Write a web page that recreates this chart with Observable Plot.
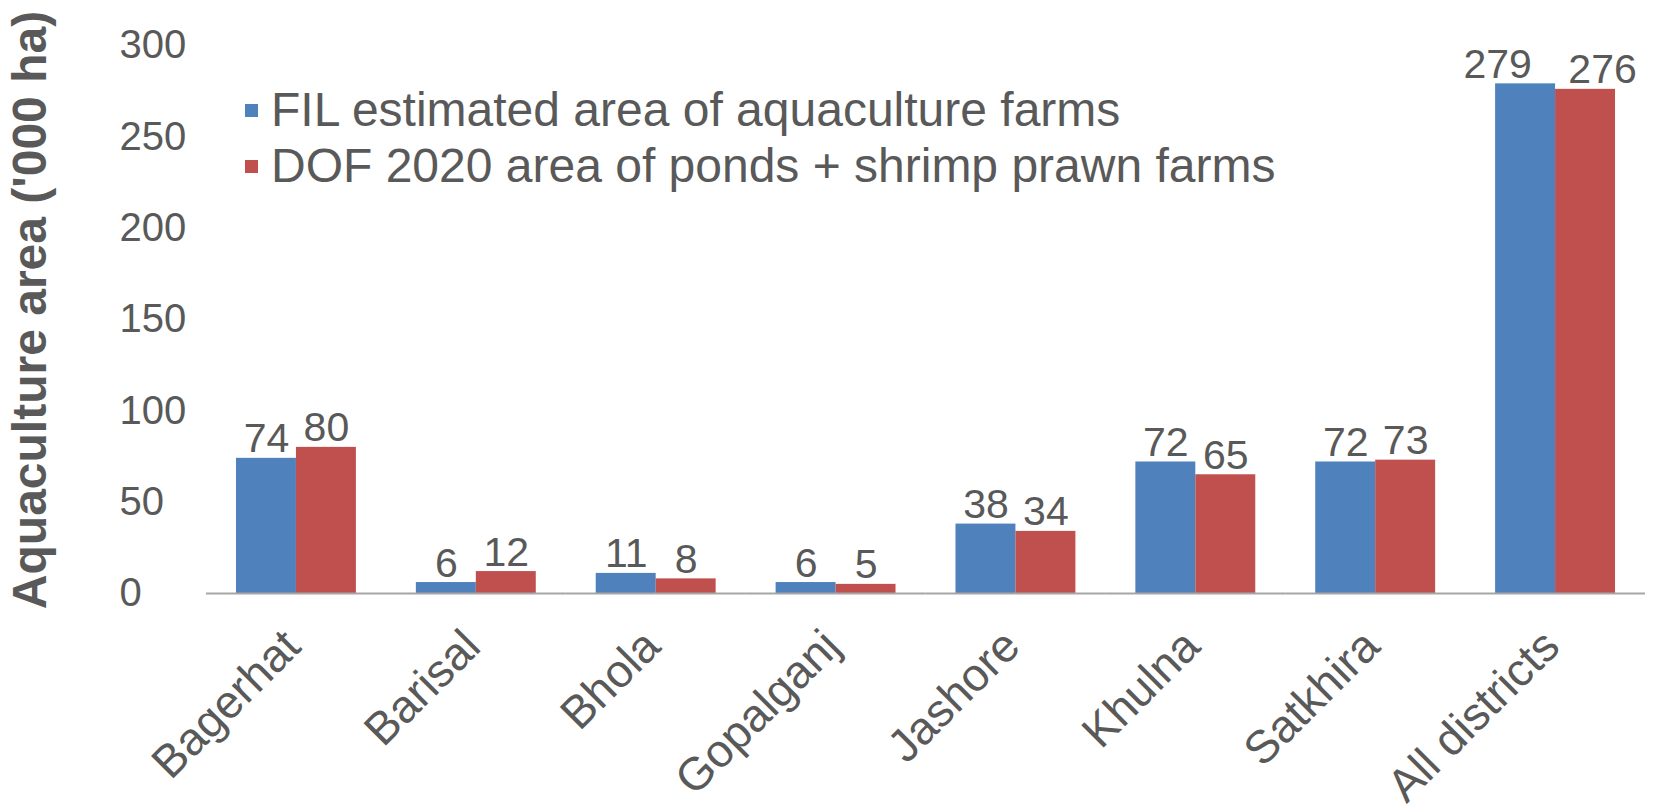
<!DOCTYPE html>
<html>
<head>
<meta charset="utf-8">
<script src="https://cdn.jsdelivr.net/npm/d3@7"></script>
<script src="https://cdn.jsdelivr.net/npm/@observablehq/plot@0.6"></script>
<style>
  html, body { margin: 0; padding: 0; background: #fff; }
  #wrap { position: relative; width: 1655px; height: 811px; font-family: "Liberation Sans", Arial, sans-serif; color: #595959; }
  #ytitle {
    position: absolute; left: 29px; top: 310px;
    transform: translate(-50%, -50%) rotate(-90deg);
    white-space: nowrap; font-size: 48px; font-weight: bold; color: #595959;
  }
  #legend { position: absolute; left: 245px; top: 82px; font-size: 48px; line-height: 56px; }
  #legend .item { display: flex; align-items: center; white-space: nowrap; }
  #legend .sw { width: 13px; height: 13px; margin-right: 13px; }
</style>
</head>
<body>
<div id="wrap">
  <div id="chart"></div>
  <div id="ytitle"></div>
  <div id="legend"></div>
</div>
<script>
// District aquaculture areas, thousand hectares
const districts = ["Bagerhat", "Barisal", "Bhola", "Gopalganj", "Jashore", "Khulna", "Satkhira", "All districts"];
const filArea = [74, 6, 11, 6, 38, 72, 72, 279];
const dofArea = [80, 12, 8, 5, 34, 65, 73, 276];
const seriesNames = ["FIL estimated area of aquaculture farms", "DOF 2020 area of ponds + shrimp prawn farms"];
const seriesColors = ["#4f81bd", "#c0504d"];
const yTicks = [0, 50, 100, 150, 200, 250, 300];
const yTitle = "Aquaculture area ('000 ha)";

const rows = districts.flatMap((d, i) => [
  {district: d, series: seriesNames[0], value: filArea[i]},
  {district: d, series: seriesNames[1], value: dofArea[i]}
]);

// three-digit labels are wider than their bars, so each pair is pushed apart
const isWide = (d) => d.value >= 100;
const labelStyle = {
  fx: "district", x: "series", y: "value", text: "value",
  lineAnchor: "bottom", dy: -6, fontSize: 41, fill: "#595959"
};

const chart = Plot.plot({
  width: 1655,
  height: 811,
  marginLeft: 206,
  marginRight: 10,
  marginTop: 45,
  marginBottom: 218,
  style: {fontFamily: "'Liberation Sans', Arial, sans-serif", color: "#595959", background: "#fff"},
  fx: {domain: districts, paddingInner: 1 / 3, paddingOuter: 1 / 6, round: false, label: null},
  x: {domain: seriesNames, padding: 0, round: false, axis: null},
  y: {domain: [0, 300], label: null},
  color: {domain: seriesNames, range: seriesColors},
  marks: [
    Plot.barY(rows, {fx: "district", x: "series", y: "value", fill: "series"}),
    Plot.ruleY([0], {stroke: "#a6a6a6", strokeWidth: 2, insetLeft: -30, insetRight: -30}),
    Plot.text(rows.filter((d) => !isWide(d)), labelStyle),
    Plot.text(rows.filter((d) => isWide(d) && d.series === seriesNames[0]), {...labelStyle, dx: -28}),
    Plot.text(rows.filter((d) => isWide(d) && d.series === seriesNames[1]), {...labelStyle, dx: 17}),
    Plot.axisY({ticks: yTicks, tickSize: 0, tickPadding: 117, textAnchor: "start", fontSize: 40, label: null}),
    Plot.axisFx({
      anchor: "bottom", tickSize: 0, tickPadding: 45, tickRotate: -45,
      textAnchor: "end", fontSize: 46, label: null, dx: -4
    })
  ]
});
document.getElementById("chart").appendChild(chart);

document.getElementById("ytitle").textContent = yTitle;
const legend = d3.select("#legend");
seriesNames.forEach((name, i) => {
  const item = legend.append("div").attr("class", "item");
  item.append("div").attr("class", "sw").style("background", seriesColors[i]);
  item.append("span").text(name);
});
</script>
</body>
</html>
